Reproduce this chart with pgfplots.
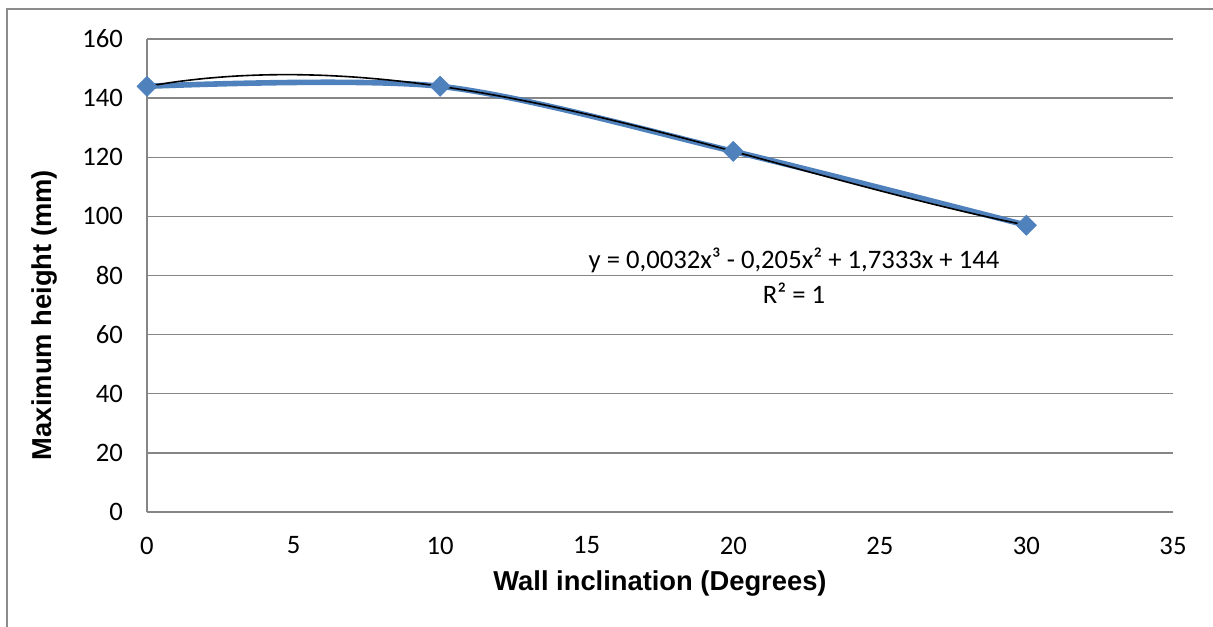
\documentclass[border=0pt]{standalone}
\usepackage{fontspec}
\setmainfont{Carlito}
\newfontfamily\arialfont{Liberation Sans}
\usepackage{pgfplots}
\pgfplotsset{compat=1.18}
\definecolor{gridgray}{RGB}{134,134,134}
\definecolor{xlblue}{RGB}{79,129,189}
\definecolor{framegray}{RGB}{140,140,140}
\begin{document}
\begin{tikzpicture}
\useasboundingbox (0,0) rectangle (909.75pt,469.5pt);
\begin{scope}
\clip (0,0) rectangle (909.75pt,469.5pt);
\draw[framegray, line width=1.4pt] (5.25pt,-20pt) rectangle (930pt,462.75pt);
\end{scope}
\begin{axis}[
  at={(110.25pt,85.5pt)}, anchor=south west,
  scale only axis,
  width=769.5pt, height=354.75pt,
  xmin=0, xmax=35, ymin=0, ymax=160,
  xtick={0,5,...,35}, ytick={0,20,...,160},
  axis x line*=bottom, axis y line*=left,
  axis line style={gridgray, line width=1.1pt, -},
  ymajorgrids, grid style={gridgray, line width=1.1pt},
  major tick length=0pt,
  /pgf/number format/assume math mode=true,
  tick label style={font=\fontsize{20}{24}\selectfont, text=black},
  yticklabel style={xshift=-14.5pt},
  xticklabel style={yshift=-15pt},
  xlabel={\arialfont\bfseries Wall inclination (Degrees)},
  ylabel={\arialfont\bfseries Maximum height (mm)},
  label style={font=\fontsize{20.5}{24}\selectfont},
  xlabel style={at={(axis description cs:0.5,-0.152)}, anchor=center},
  ylabel style={at={(axis description cs:-0.1,0.4165)}, anchor=center},
  clip=false,
]
\addplot[xlblue, line width=4.2pt, smooth, mark=square*, mark size=5.3pt,
  mark options={rotate=45, fill=xlblue, draw=xlblue, line width=0.5pt}]
  coordinates {(0,144) (10,144) (20,122) (30,97)};
\addplot[black, line width=1.2pt, smooth] coordinates {
(0,144) (1,145.531) (2,146.672) (3,147.4405) (4,147.856) (5,147.9375)
(6,147.704) (7,147.1745) (8,146.368) (9,145.3035) (10,144)
(11,142.4765) (12,140.752) (13,138.8455) (14,136.776) (15,134.5625)
(16,132.224) (17,129.7798) (18,127.248) (19,124.6475) (20,122)
(21,119.3215) (22,116.6307) (23,113.9478) (24,111.296) (25,108.6875)
(26,106.144) (27,103.6845) (28,101.328) (29,99.0935) (30,97)};
\node[font=\fontsize{20}{24}\selectfont, align=center, inner sep=0pt]
  at (axis cs:22.07,85.2) {y = 0,0032x³ - 0,205x² + 1,7333x + 144};
\node[font=\fontsize{20}{24}\selectfont, align=center, inner sep=0pt]
  at (axis cs:22.07,74.1) {R² = 1};
\end{axis}
\end{tikzpicture}
\end{document}
